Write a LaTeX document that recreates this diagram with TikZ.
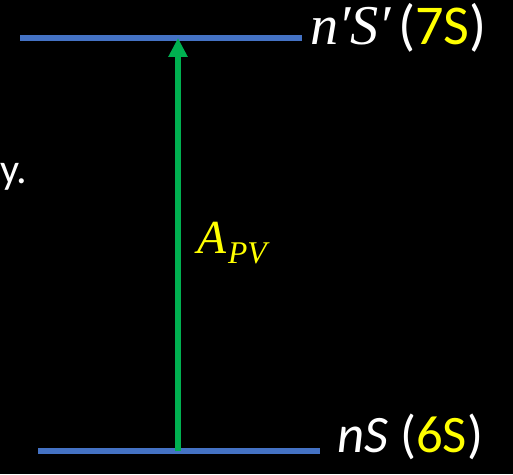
\documentclass[tikz,border=0pt]{standalone}
\usepackage{fontspec}
\setmainfont{Carlito}
\newfontfamily\cambria{Liberation Serif}
\usetikzlibrary{arrows.meta}
\definecolor{levelblue}{HTML}{4472C4}
\definecolor{pvgreen}{HTML}{00B050}
\definecolor{stateyellow}{HTML}{FFFF00}
\begin{document}
\begin{tikzpicture}[x=0.02cm,y=0.02cm,line cap=butt,
  level/.style={levelblue,line width=3.4pt},
  transition/.style={pvgreen,line width=3.2pt,-{Triangle[length=10.8pt,width=10.4pt]}},
  lab/.style={anchor=base west,inner sep=0pt,text=white}]
\fill[black] (0,0) rectangle (513,474);
% energy levels
\coordinate (upL) at (20,436);
\coordinate (upR) at (302,436);
\coordinate (loL) at (38,23);
\coordinate (loR) at (320,23);
\draw[level] (upL) -- (upR);
\draw[level] (loL) -- (loR);
% parity violating transition
\coordinate (trlo) at (178,23);
\coordinate (trhi) at (178,436);
\draw[transition] (trlo) -- (trhi);
\node[lab,font=\fontsize{32}{32}\selectfont] (uplab) at (310,429)
  {{\cambria\itshape\fontsize{32}{32}\selectfont n′S′\kern4pt}(\textcolor{stateyellow}{7S})};
\node[lab,font=\fontsize{30}{30}\selectfont] (lolab) at (337,22)
  {{\itshape nS} (\textcolor{stateyellow}{6S})};
\node[lab,text=stateyellow,font=\cambria\itshape\fontsize{27}{27}\selectfont] (apv) at (197,221)
  {A\kern1pt\raisebox{-0.2cm}{\fontsize{18}{18}\selectfont PV}};
\node[lab,font=\fontsize{24}{24}\selectfont] (cut) at (0,291) {y.};
\end{tikzpicture}
\end{document}
